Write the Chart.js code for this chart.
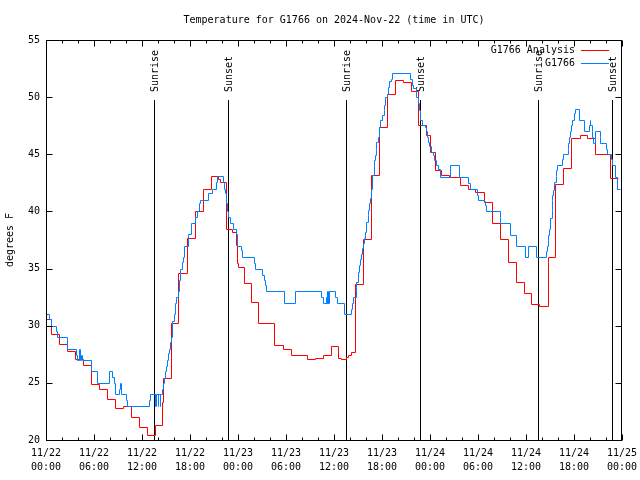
<!DOCTYPE html>
<html>
<head>
<meta charset="utf-8">
<title>Temperature for G1766</title>
<script src="https://cdn.jsdelivr.net/npm/chart.js@4"></script>
<style>
  body { margin: 0; background: #fff; }
  canvas { display: block; }
</style>
</head>
<body>
<canvas id="tempChart" width="640" height="480"></canvas>
<script>
// hours after 11/22 00:00 UTC
const analysisHours = [0, 0.66, 1.66, 2.66, 3.66, 4.66, 5.66, 6.66, 7.66, 8.66, 9.66, 10.66, 11.66, 12.6, 12.66,
  13.66, 14.54, 14.6, 15.6, 16.5, 17.6, 18.6, 19.6, 20.6, 21.5, 21.7, 22.54, 23.2, 23.7, 23.9, 24.0, 24.7,
  25.6, 26.5, 28.5, 29.6, 30.6, 32.6, 33.6, 34.6, 35.6, 36.5, 36.9, 37.5, 37.7, 38.1, 38.6, 38.65, 39.6,
  40.6, 41.6, 42.6, 43.6, 44.6, 45.6, 46.5, 47.5, 48.0, 48.6, 49.4, 50.4, 51.7, 52.7, 53.6, 54.7, 55.7,
  56.7, 57.7, 58.7, 59.7, 60.6, 61.6, 62.7, 62.8, 63.6, 64.6, 65.6, 66.7, 67.6, 68.6, 70.5, 71.5];
const analysisTemps = [30.6, 29.3, 28.4, 27.8, 27.1, 26.6, 24.9, 24.5, 23.6, 22.8, 23.0, 22.0, 21.1, 20.6, 20.4,
  21.3, 23.3, 25.4, 30.2, 34.6, 37.7, 40.0, 42.0, 43.1, 42.8, 42.55, 38.5, 38.2, 37.1, 35.5, 35.1, 33.7,
  32.1, 30.2, 28.3, 28.0, 27.4, 27.1, 27.2, 27.4, 28.2, 27.2, 27.1, 27.3, 27.4, 27.7, 33.1, 33.65, 37.6,
  43.2, 47.4, 50.3, 51.5, 51.3, 50.5, 47.6, 46.7, 45.2, 43.6, 43.2, 43.0, 42.3, 42.0, 41.7, 40.8, 39.0,
  37.6, 35.6, 33.8, 32.9, 31.9, 31.7, 35.6, 36.0, 42.4, 43.8, 46.4, 46.7, 46.4, 45.0, 42.9, 42.9];

const obsHours = [0, 0.35, 0.66, 1.25, 1.42, 2.67, 3.75, 3.92, 4.08, 4.25, 4.4, 4.5, 5.67, 6.42, 7.88, 8.29,
  8.5, 8.67, 9.17, 9.25, 9.42, 9.96, 10.17, 12.83, 13.0, 13.6, 13.65, 13.7, 13.75, 13.95, 14.0, 14.2, 14.25,
  14.54, 14.6, 14.75, 14.88, 15.0, 15.1, 15.25, 15.38, 15.5, 15.6, 15.75, 16.0, 16.1, 16.3, 16.5, 16.6,
  16.75, 17.0, 17.1, 17.2, 17.7, 18.08, 18.67, 18.83, 19.08, 19.2, 20.3, 20.7, 21.2, 21.33, 22.1, 22.3,
  22.4, 22.5, 22.6, 22.8, 22.96, 23.33, 23.7, 23.83, 24.33, 24.46, 26.0, 26.1, 27.04, 27.25, 27.4, 27.5,
  29.8, 31.1, 34.4, 34.6, 35.0, 35.05, 35.1, 35.15, 35.2, 35.25, 35.4, 36.1, 36.4, 37.25, 38.1, 38.3,
  38.4, 38.7, 38.8, 39.0, 39.1, 39.25, 39.4, 39.5, 39.6, 39.7, 39.9, 40.0, 40.2, 40.3, 40.35, 40.5, 40.6,
  40.7, 40.96, 41.1, 41.2, 41.3, 41.5, 41.6, 41.75, 41.96, 42.2, 42.3, 42.4, 42.6, 42.7, 42.9, 43.1, 43.2,
  45.5, 45.8, 45.9, 46.2, 46.3, 46.5, 46.6, 46.75, 46.8, 47.0, 47.4, 47.5, 47.6, 47.7, 47.9, 48.1, 48.4,
  48.5, 48.8, 49.0, 49.25, 50.5, 51.6, 52.8, 52.96, 53.9, 54.0, 54.7, 54.85, 55.0, 56.7, 56.75, 58.0,
  58.7, 59.9, 60.3, 61.3, 62.5, 62.6, 62.7, 62.8, 62.9, 63.04, 63.2, 63.25, 63.3, 63.4, 63.5, 63.7, 63.8,
  63.9, 64.5, 64.6, 65.2, 65.3, 65.4, 65.5, 65.6, 65.7, 66.0, 66.1, 66.6, 67.2, 67.9, 67.95, 68.05, 68.2,
  68.3, 68.35, 68.6, 69.2, 69.25, 70.0, 70.1, 70.6, 70.7, 71.1, 71.4, 71.75];
const obsTemps = [31.0, 30.6, 30.0, 29.5, 29.0, 28.0, 27.4, 27.0, 28.0, 27.0, 27.4, 27.0, 26.0, 25.0, 26.0, 25.5,
  25.0, 24.0, 24.5, 25.0, 24.0, 23.5, 23.0, 23.5, 24.0, 23.0, 24.0, 23.0, 24.0, 23.0, 24.0, 23.0, 24.0,
  24.5, 25.0, 25.4, 26.0, 26.5, 27.0, 27.6, 28.0, 28.6, 29.0, 30.4, 31.0, 32.0, 32.5, 33.0, 34.0,
  35.0, 35.6, 36.0, 37.0, 38.0, 39.0, 39.5, 40.0, 40.7, 41.0, 41.6, 42.0, 42.6, 43.1, 42.6, 42.0,
  41.6, 40.7, 40.0, 39.5, 39.0, 38.5, 38.0, 37.0, 36.6, 36.0, 35.5, 35.0, 34.4, 34.0, 33.6, 33.0,
  32.0, 33.0, 32.5, 32.0, 32.5, 32.0, 33.0, 32.0, 33.0, 32.0, 33.0, 32.5, 32.0, 31.0, 31.5, 32.0,
  32.5, 33.4, 33.8, 34.7, 35.3, 35.8, 36.3, 36.8, 37.2, 37.7, 38.2, 39.1, 39.7, 40.1, 40.7, 41.2, 42.0,
  43.2, 44.5, 44.9, 45.5, 46.1, 46.5, 47.4, 48.0, 48.4, 48.9, 49.3, 50.0, 50.3, 50.9, 51.4, 51.6, 52.1,
  51.6, 51.1, 50.8, 50.6, 50.0, 49.5, 48.9, 48.4, 48.0, 47.6, 47.4, 47.0, 46.5, 46.1, 45.7, 45.2, 44.9,
  44.5, 44.1, 43.7, 43.0, 44.1, 43.0, 42.5, 42.0, 41.4, 41.0, 40.9, 40.6, 40.0, 39.5, 39.0, 37.9,
  37.0, 36.0, 37.0, 36.0, 36.5, 37.0, 37.5, 37.9, 38.5, 39.4, 40.1, 41.0, 41.4, 41.9, 42.6, 43.1, 43.6,
  44.1, 44.6, 45.0, 45.5, 46.0, 46.5, 47.0, 47.6, 48.0, 48.6, 49.0, 48.0, 47.0, 47.6, 48.0, 47.6, 47.0,
  46.5, 46.0, 47.0, 46.5, 46.0, 45.5, 45.0, 44.6, 44.1, 43.0, 42.0, 42.0];

const sunHours = [13.5, 22.8, 37.47, 46.75, 61.45, 70.75];
const sunLabels = ['Sunrise', 'Sunset', 'Sunrise', 'Sunset', 'Sunrise', 'Sunset'];

const yTicks = [20, 25, 30, 35, 40, 45, 50, 55];

const FONT = '10px "DejaVu Sans Mono", "Liberation Mono", monospace';

function toPoints(xs, ys) {
    return xs.map((x, i) => ({ x: x, y: ys[i] }));
}

// gnuplot look: frame, inward ticks on all sides, sun lines, title, legend
const gnuplotLook = {
    id: 'gnuplotLook',
    afterDatasetsUpdate(chart) {
        // put the step lines on whole pixels so they stay crisp
        chart.data.datasets.forEach((ds, i) => {
            chart.getDatasetMeta(i).data.forEach(p => {
                p.x = Math.round(p.x) + 0.5;
                p.y = Math.round(p.y) + 0.5;
            });
        });
    },
    beforeDatasetsDraw(chart) {
        const ctx = chart.ctx;
        const area = chart.chartArea;
        const xs = chart.scales.x;
        ctx.save();
        ctx.strokeStyle = '#000';
        ctx.lineWidth = 1;
        ctx.fillStyle = '#000';
        ctx.font = FONT;
        sunHours.forEach((h, i) => {
            const px = Math.round(xs.getPixelForValue(h)) + 0.5;
            ctx.beginPath();
            ctx.moveTo(px, area.top + 60);
            ctx.lineTo(px, area.bottom);
            ctx.stroke();
            ctx.save();
            ctx.translate(px + 1, area.top + 52);
            ctx.rotate(-Math.PI / 2);
            ctx.textAlign = 'left';
            ctx.textBaseline = 'middle';
            ctx.fillText(sunLabels[i], 0, 0);
            ctx.restore();
        });
        ctx.restore();
    },
    afterDraw(chart) {
        const ctx = chart.ctx;
        const area = chart.chartArea;
        const xs = chart.scales.x;
        const ys = chart.scales.y;
        const l = Math.floor(area.left) + 0.5;
        const r = Math.floor(area.right) - 0.5;
        const t = Math.floor(area.top) + 0.5;
        const b = Math.floor(area.bottom) + 0.5;
        ctx.save();
        ctx.strokeStyle = '#000';
        ctx.lineWidth = 1;
        ctx.strokeRect(l, t, r - l, b - t);

        ctx.beginPath();
        for (let h = 0; h <= 72; h += 2) {
            const px = Math.round(xs.getPixelForValue(h)) + 0.5;
            const len = h % 6 === 0 ? 6 : 3;
            ctx.moveTo(px, b); ctx.lineTo(px, b - len);
            ctx.moveTo(px, t); ctx.lineTo(px, t + len);
        }
        yTicks.forEach(v => {
            const py = Math.round(ys.getPixelForValue(v)) + 0.5;
            ctx.moveTo(l, py); ctx.lineTo(l + 6, py);
            ctx.moveTo(r, py); ctx.lineTo(r - 6, py);
        });
        ctx.stroke();

        ctx.fillStyle = '#000';
        ctx.font = FONT;
        ctx.textAlign = 'center';
        ctx.textBaseline = 'middle';
        ctx.fillText('Temperature for G1766 on 2024-Nov-22 (time in UTC)', (area.left + area.right) / 2, 20);

        ctx.save();
        ctx.translate(10, (area.top + area.bottom) / 2);
        ctx.rotate(-Math.PI / 2);
        ctx.fillText('degrees F', 0, 0);
        ctx.restore();

        // legend, text right aligned with the sample line after it
        ctx.textAlign = 'right';
        chart.data.datasets.forEach((ds, i) => {
            const ly = 50 + i * 13;
            ctx.fillText(ds.label, 575, ly);
            ctx.strokeStyle = ds.borderColor;
            ctx.beginPath();
            ctx.moveTo(581, ly + 0.5);
            ctx.lineTo(609, ly + 0.5);
            ctx.stroke();
        });
        ctx.restore();
    }
};

const ctx = document.getElementById('tempChart').getContext('2d');
const tempChart = new Chart(ctx, {
    type: 'line',
    data: {
        datasets: [{
            label: 'G1766 Analysis',
            data: toPoints(analysisHours, analysisTemps),
            borderColor: '#ff0000',
            borderWidth: 1,
            stepped: 'before',
            pointRadius: 0,
            fill: false,
            order: 1
        }, {
            label: 'G1766',
            data: toPoints(obsHours, obsTemps),
            borderColor: '#0080ff',
            borderWidth: 1,
            stepped: 'before',
            pointRadius: 0,
            fill: false,
            order: 0
        }]
    },
    options: {
        responsive: false,
        animation: false,
        devicePixelRatio: 1,
        layout: { padding: { left: 0, right: 18, top: 40, bottom: 0 } },
        plugins: {
            legend: { display: false },
            tooltip: { enabled: false }
        },
        scales: {
            x: {
                type: 'linear',
                min: 0,
                max: 72,
                grid: { display: false, drawTicks: false },
                border: { display: false },
                afterFit: scale => {
                    scale.height = 40;
                    scale.paddingLeft = 0;
                    scale.paddingRight = 0;
                },
                ticks: {
                    stepSize: 6,
                    autoSkip: false,
                    maxRotation: 0,
                    padding: 6,
                    color: '#000',
                    font: { family: '"DejaVu Sans Mono", "Liberation Mono", monospace', size: 10, lineHeight: 1.4 },
                    callback: v => {
                        const day = 22 + Math.floor(v / 24);
                        const hr = String(v % 24).padStart(2, '0');
                        return ['11/' + day, hr + ':00'];
                    }
                }
            },
            y: {
                min: 20,
                max: 55,
                grid: { display: false, drawTicks: false },
                border: { display: false },
                afterFit: scale => {
                    scale.width = 46;
                    scale.paddingTop = 0;
                    scale.paddingBottom = 0;
                },
                afterBuildTicks: scale => { scale.ticks = yTicks.map(v => ({ value: v })); },
                ticks: {
                    padding: 6,
                    color: '#000',
                    font: { family: '"DejaVu Sans Mono", "Liberation Mono", monospace', size: 10 }
                }
            }
        }
    },
    plugins: [gnuplotLook]
});
</script>
</body>
</html>
